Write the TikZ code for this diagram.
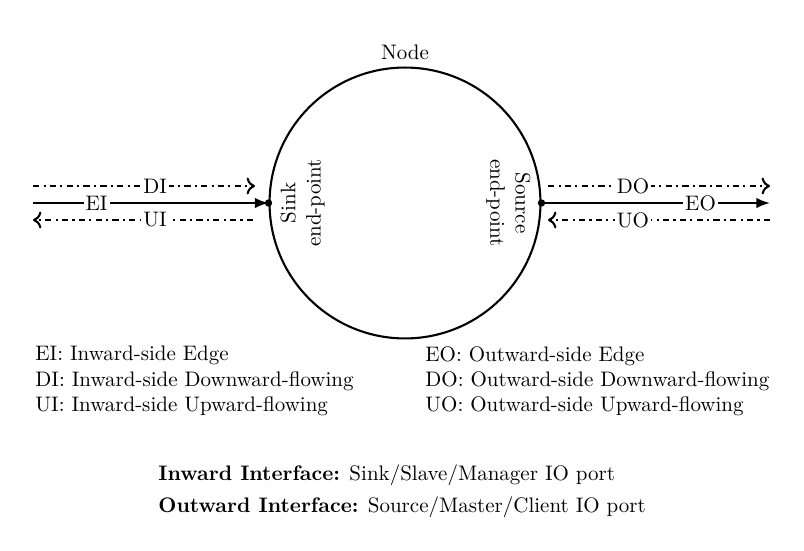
\documentclass[tikz,border=0pt]{standalone}
\usetikzlibrary{arrows.meta}
\begin{document}
\begin{tikzpicture}[x=0.47619pt,y=-0.47619pt,
  dflow/.style={line width=1pt, dash dot, -{To[length=4pt,width=8pt]}},
  sflow/.style={line width=1pt, -{Latex[length=6.5pt,width=5pt]}},
  lbl/.style={fill=white, inner sep=1pt},
  dot/.style={circle, fill, inner sep=0pt, minimum size=3.5pt},
  legend/.style={anchor=west, align=left, inner sep=0pt}]
\useasboundingbox (0,0) rectangle (804,551);
\node[circle, draw, line width=1pt, minimum size=129pt, inner sep=0pt] (n) at (405,203) {};
\node[above, inner sep=3pt] (nlabel) at (n.north) {Node};
\node[dot] (sink) at (n.west) {};
\node[dot] (source) at (n.east) {};
\node[rotate=90, inner sep=0pt] (sinkt) at (303,203) {\begin{tabular}{@{}c@{}}Sink\\end-point\end{tabular}};
\node[rotate=-90, inner sep=0pt] (sourcet) at (508,203) {\begin{tabular}{@{}c@{}}Source\\end-point\end{tabular}};
% inward side
\coordinate (diS) at (33,186); \coordinate (diE) at (255,186);
\coordinate (eiS) at (33,203);
\coordinate (uiS) at (253,220); \coordinate (uiE) at (33,220);
\draw[dflow] (diS) -- node[lbl, pos=0.55] (dil) {DI} (diE);
\draw[sflow] (eiS) -- node[lbl, pos=0.27] (eil) {EI} (sink.center);
\draw[dflow] (uiS) -- node[lbl, pos=0.445] (uil) {UI} (uiE);
% outward side
\coordinate (doS) at (548,186); \coordinate (doE) at (770,186);
\coordinate (eoE) at (770,203);
\coordinate (uoS) at (770,220); \coordinate (uoE) at (548,220);
\draw[dflow] (doS) -- node[lbl, pos=0.383] (dol) {DO} (doE);
\draw[sflow] (source.center) -- node[lbl, pos=0.696] (eol) {EO} (eoE);
\draw[dflow] (uoS) -- node[lbl, pos=0.617] (uol) {UO} (uoE);
% legends
\node[legend] (legl) at (35,381) {EI: Inward-side Edge\\DI: Inward-side Downward-flowing\\UI: Inward-side Upward-flowing};
\node[legend] (legr) at (425,381) {EO: Outward-side Edge\\DO: Outward-side Downward-flowing\\UO: Outward-side Upward-flowing};
\node[legend] (inw) at (158,475) {\textbf{Inward Interface:} Sink/Slave/Manager IO port};
\node[legend] (outw) at (158,507) {\textbf{Outward Interface:} Source/Master/Client IO port};
\end{tikzpicture}
\end{document}
